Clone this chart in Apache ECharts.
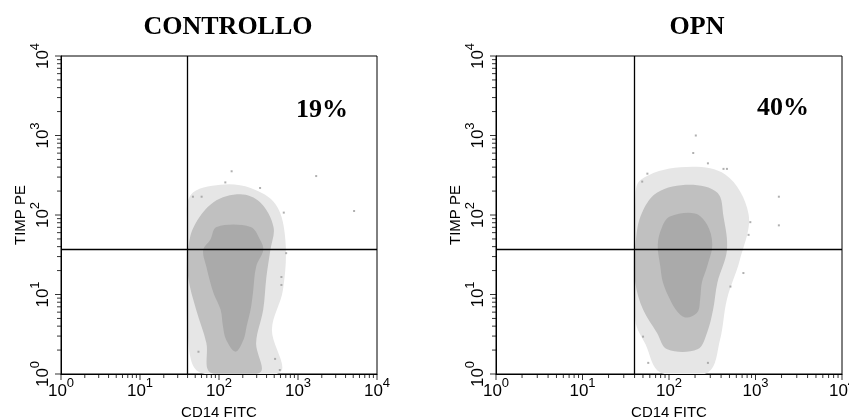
<!DOCTYPE html>
<html><head><meta charset="utf-8">
<script src="https://cdn.jsdelivr.net/npm/echarts@6/dist/echarts.min.js"></script>
<style>html,body{margin:0;padding:0;background:#fff}#c{width:849px;height:419px}</style>
</head><body><div id="c"></div>
<script>
// ---- text ----
const panelTitles = ['CONTROLLO', 'OPN'];
const quadrantPct = ['19%', '40%'];
const xAxisName = 'CD14 FITC';
const yAxisName = 'TIMP PE';
// ---- axis ticks (log decades) ----
const decadeTicks = [1, 10, 100, 1000, 10000];
const decadeExps = ['0', '1', '2', '3', '4'];
const minorTicks = [2,3,4,5,6,7,8,9,20,30,40,50,60,70,80,90,200,300,400,500,600,700,800,900,2000,3000,4000,5000,6000,7000,8000,9000];
// ---- quadrant gates ----
const gateX = 40;
const gateY = 37;
// ---- event-cloud outlines, [log10 x, log10 y] ----
const ctrlOuterLog = [[1.64,2.25],[2.02,2.38],[2.40,2.34],[2.72,2.13],[2.84,1.69],[2.81,1.06],[2.67,0.56],[2.77,0.02],[1.76,0.02],[1.61,0.43],[1.60,1.81]];
const ctrlMidLog = [[1.93,2.16],[2.27,2.26],[2.52,2.16],[2.69,1.85],[2.65,1.56],[2.60,1.22],[2.56,0.81],[2.47,0.39],[2.52,0.02],[1.89,0.02],[1.84,0.39],[1.71,0.81],[1.61,1.22],[1.61,1.56],[1.68,1.85]];
const ctrlCoreLog = [[1.97,1.85],[2.40,1.85],[2.52,1.69],[2.56,1.56],[2.47,1.35],[2.43,1.02],[2.40,0.81],[2.35,0.60],[2.31,0.43],[2.21,0.28],[2.09,0.43],[2.05,0.60],[2.02,0.81],[1.93,1.02],[1.84,1.35],[1.80,1.56],[1.89,1.69]];
const ctrlStrayLog = [[2.16,2.55],[2.08,2.41],[3.23,2.49],[3.71,2.05],[2.52,2.34],[1.67,2.23],[1.78,2.23],[2.82,2.03],[2.85,1.52],[2.79,1.22],[2.79,1.12],[2.71,0.19],[1.74,0.28],[2.77,0.05]];
const opnOuterLog = [[1.67,2.44],[2.13,2.60],[2.65,2.51],[2.92,2.01],[2.82,1.44],[2.67,0.94],[2.59,0.43],[2.45,0.02],[1.90,0.02],[1.73,0.37],[1.61,0.68],[1.61,2.19]];
const opnMidLog = [[1.86,2.28],[2.24,2.38],[2.56,2.28],[2.63,1.98],[2.67,1.56],[2.56,1.15],[2.51,0.81],[2.44,0.52],[2.33,0.31],[1.98,0.31],[1.86,0.52],[1.70,0.81],[1.61,1.15],[1.61,1.56],[1.67,1.98]];
const opnCoreLog = [[2.01,1.98],[2.30,2.02],[2.44,1.88],[2.50,1.63],[2.44,1.35],[2.38,1.15],[2.36,0.94],[2.33,0.78],[2.20,0.71],[2.10,0.78],[2.01,0.94],[1.93,1.15],[1.90,1.35],[1.87,1.63],[1.92,1.85]];
const opnStrayLog = [[2.31,3.00],[2.28,2.78],[2.45,2.65],[2.63,2.58],[2.67,2.58],[1.75,2.52],[1.69,2.42],[3.27,2.23],[3.27,1.87],[2.94,1.91],[2.92,1.75],[2.86,1.27],[2.71,1.10],[1.70,0.47],[1.76,0.14],[2.45,0.14]];

const toVal = p => [Math.pow(10, p[0]), Math.pow(10, p[1])];
const panels = [
  { outer: ctrlOuterLog, mid: ctrlMidLog, core: ctrlCoreLog, stray: ctrlStrayLog },
  { outer: opnOuterLog, mid: opnMidLog, core: opnCoreLog, stray: opnStrayLog }
];
const grids = [
  { left: 61, top: 56, width: 316, height: 318 },
  { left: 496, top: 56, width: 346, height: 318 }
];
const SANS = '"Liberation Sans", Arial, sans-serif';
const SERIF = '"Liberation Serif", "Times New Roman", serif';
const rich = {
  b: { fontSize: 17, fontFamily: SANS, color: '#000', lineHeight: 18, verticalAlign: 'bottom' },
  s: { fontSize: 13, fontFamily: SANS, color: '#000', lineHeight: 14, padding: [0, 0, 10, 0], verticalAlign: 'bottom' }
};
function decadeLabel(v) {
  let k = 0;
  for (let i = 0; i < decadeTicks.length; i++) if (Math.abs(Math.log10(v) - Math.log10(decadeTicks[i])) < 0.01) k = i;
  return '{b|10}{s|' + decadeExps[k] + '}';
}
function axisCommon(i) {
  return {
    type: 'log', logBase: 10, min: 1, max: 10000, gridIndex: i, z: 10,
    axisLine: { show: true, onZero: false, lineStyle: { color: '#000', width: 1 } },
    axisTick: { show: false },
    splitLine: { show: false }, minorTick: { show: false },
    nameTextStyle: { fontFamily: SANS, fontSize: 15, color: '#000' }
  };
}
// tick marks as tiny bar-shaped symbols placed on the axis line through the axis scale
function tickSeries(i, values, isX, len) {
  return {
    type: 'scatter', xAxisIndex: i, yAxisIndex: i, silent: true, clip: false, z: 20, animation: false,
    symbol: 'rect', symbolSize: isX ? [1, len] : [len, 1], symbolOffset: isX ? [0, len / 2] : [-len / 2, 0],
    itemStyle: { color: '#000' },
    data: values.map(v => isX ? [v, 1] : [1, v])
  };
}
const xAxes = [], yAxes = [], series = [];
for (let i = 0; i < 2; i++) {
  xAxes.push(Object.assign(axisCommon(i), {
    position: 'bottom', name: xAxisName, nameLocation: 'middle', nameGap: 20,
    axisLabel: { customValues: decadeTicks, formatter: decadeLabel, rich, margin: 8, showMinLabel: true, showMaxLabel: true }
  }));
  yAxes.push(Object.assign(axisCommon(i), {
    position: 'left', name: yAxisName, nameLocation: 'middle', nameGap: 33,
    axisLabel: { customValues: decadeTicks, formatter: decadeLabel, rich, rotate: 90, margin: 9, showMinLabel: true, showMaxLabel: true }
  }));
  const p = panels[i];
  [[p.outer, '#e6e6e6', 1], [p.mid, '#c0c0c0', 2], [p.core, '#aaaaaa', 3]].forEach(([pts, fill, z]) => {
    series.push({
      type: 'custom', coordinateSystem: 'cartesian2d', xAxisIndex: i, yAxisIndex: i,
      silent: true, clip: true, z, animation: false,
      data: [toVal(pts[0])],
      renderItem: function (params, api) {
        const points = pts.map(q => api.coord(toVal(q)));
        return { type: 'polygon', shape: { points, smooth: 0.35 }, style: { fill } };
      }
    });
  });
  series.push({
    type: 'scatter', xAxisIndex: i, yAxisIndex: i, z: 4, silent: true, animation: false,
    symbol: 'rect', symbolSize: 2, itemStyle: { color: '#9c9c9c' },
    data: p.stray.map(toVal),
    markLine: {
      silent: true, symbol: ['none', 'none'], label: { show: false }, animation: false,
      lineStyle: { color: '#000', width: 1.3, type: 'solid' },
      data: [{ xAxis: gateX }, { yAxis: gateY }]
    }
  });
  series.push(tickSeries(i, minorTicks, true, 4));
  series.push(tickSeries(i, decadeTicks, true, 6));
  series.push(tickSeries(i, minorTicks, false, 4));
  series.push(tickSeries(i, decadeTicks, false, 6));
}
const chart = echarts.init(document.getElementById('c'), null, { renderer: 'canvas' });
chart.setOption({
  animation: false,
  backgroundColor: '#fff',
  grid: grids.map(g => Object.assign({ show: true, borderColor: '#000', borderWidth: 1, backgroundColor: 'transparent', containLabel: false, outerBoundsMode: 'none' }, g)),
  title: [
    { text: panelTitles[0], left: 223, top: 9, textAlign: 'center', textStyle: { fontFamily: SERIF, fontWeight: 'bold', fontSize: 26, color: '#000' } },
    { text: panelTitles[1], left: 692, top: 9, textAlign: 'center', textStyle: { fontFamily: SERIF, fontWeight: 'bold', fontSize: 26, color: '#000' } }
  ],
  graphic: [
    { type: 'text', left: 296, top: 97, z: 20, style: { text: quadrantPct[0], font: 'bold 26px ' + SERIF, fill: '#000' } },
    { type: 'text', left: 757, top: 95, z: 20, style: { text: quadrantPct[1], font: 'bold 26px ' + SERIF, fill: '#000' } }
  ],
  xAxis: xAxes,
  yAxis: yAxes,
  series
});
</script></body></html>
